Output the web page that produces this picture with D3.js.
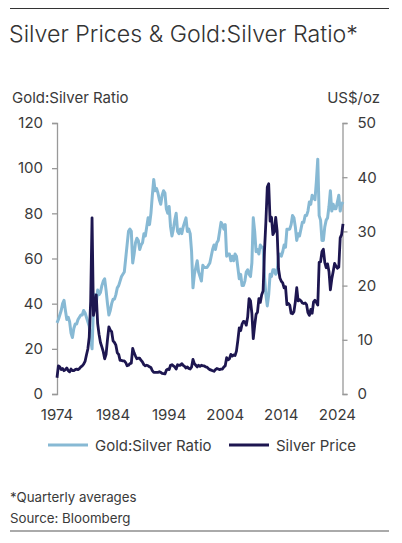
<!DOCTYPE html>
<html>
  <head>
    <meta charset="utf-8">
    <title>Silver Prices & Gold:Silver Ratio</title>
    <script src="https://d3js.org/d3.v7.min.js"></script>
    <style>
      body { margin: 0; background: #fff; }
      text { font-family: Inter, "Noto Sans", sans-serif; fill: #3a3a3a; }
    </style>
  </head>
  <body>
    <div id="chart"></div>
    <script>
      // quarterly averages, first point = Q4 1973, last = Q4 2024
      const startYear = 1973.75;
      const silverPrice = [3.0,
        5.2, 5.0, 4.5, 4.7,   4.3, 4.5, 4.8, 4.3,   4.1, 4.6, 4.3, 4.3,   4.5, 4.6, 4.5, 4.7,
        5.0, 5.2, 5.5, 6.0,   7.2, 8.3, 10.5, 17.0, 32.5, 14.5, 16.0, 18.3, 13.0, 11.0, 9.5, 8.7,
        7.8, 6.5, 7.3, 10.0,  12.4, 11.8, 11.5, 9.8, 9.5, 9.0, 7.6, 7.3,   6.2, 6.2, 6.1, 6.1,
        5.8, 5.2, 5.3, 5.6,   5.7, 8.4, 7.6, 7.0,   6.5, 6.6, 6.6, 6.2,   5.9, 5.4, 5.2, 5.3,
        5.2, 5.0, 4.9, 4.3,   4.0, 4.0, 4.0, 4.0,   4.1, 4.0, 3.8, 3.75,  3.7, 4.4, 4.6, 4.5,
        5.3, 5.4, 5.2, 5.0,   4.6, 5.4, 5.3, 5.3,   5.6, 5.3, 5.1, 4.8,   5.0, 4.7, 4.6, 5.0,
        6.4, 5.6, 5.3, 5.0,   5.3, 5.1, 5.3, 5.2,   5.2, 5.0, 4.95, 4.7,  4.5, 4.4, 4.3, 4.2,
        4.5, 4.7, 4.6, 4.5,   4.6, 4.6, 5.0, 5.2,   6.7, 6.3, 6.5, 7.3,   7.0, 7.2, 7.1, 7.9,
        9.9, 12.2, 11.7, 12.9, 13.4, 13.3, 12.7, 14.2, 17.6, 17.2, 14.9, 10.2, 12.6, 14.7, 15.1, 17.6,
        16.9, 18.3, 19.0, 26.4, 31.8, 38.2, 38.8, 31.9, 32.6, 29.4, 29.9, 32.6, 30.1, 23.1, 21.4, 20.8,
        20.5, 19.6, 19.8, 16.5, 16.7, 16.4, 14.9, 14.8, 15.2, 17.0, 19.6, 17.2, 17.4, 17.2, 16.8, 16.7,
        16.8, 16.5, 15.0, 14.5, 15.6, 14.9, 17.0, 17.3, 16.9, 16.4, 24.3, 24.4, 26.3, 26.7, 24.3, 23.3,
        24.0, 22.6, 19.2, 21.2, 22.6, 24.1, 23.6, 23.2, 23.4, 28.8, 29.4, 31.4];
      const goldSilverRatio = [31.5,
        33, 35, 37, 40,   41.5, 37, 33, 34,   32, 27, 25, 29,   31, 31, 33, 34,
        35, 35, 37, 36,   34, 32, 30, 24,   20, 38, 44, 40,   46, 44, 45, 48,
        50, 51, 46, 40,   35, 37, 40, 42,   42, 44, 47, 48,   50, 52, 53, 54,
        60, 66, 72, 73,   72, 58, 62, 67,   69, 68, 64, 66,   67, 71, 70, 74,
        78, 75, 80, 88,   95, 90, 91, 89,   86, 84, 88, 90,   89, 82, 80, 83,
        74, 70, 73, 77,   80, 72, 71, 73,   71, 74, 76, 78,   72, 73, 71, 63,
        47, 53, 56, 59,   54, 52, 50, 57,   56, 56, 56, 57,   58, 61, 64, 66,
        64, 67, 68, 72,   76, 75, 73, 75,   61, 62, 62, 59,   61, 59, 62, 61,
        56, 51, 53, 48,   48, 50, 54, 55,   53, 52, 58, 78,   72, 63, 64, 62,
        66, 65, 65, 52,   44, 39, 44, 53,   52, 55, 55, 53,   54, 61, 62, 61,
        63, 66, 65, 73,   73, 73, 75, 79,   78, 74, 68, 71,   70, 73, 76, 76,
        79, 79, 81, 85,   84, 88, 87, 86,   94, 104, 79, 77,  68, 68, 74, 77,
        78, 83, 90, 81,   84, 82, 82, 85,   88, 81, 84, 85];
      const yearTicks = [1974, 1984, 1994, 2004, 2014, 2024];
      const ratioTicks = [0, 20, 40, 60, 80, 100, 120];
      const priceTicks = [0, 10, 20, 30, 40, 50];

      const ratioColor = "#87b9d4";
      const silverColor = "#1d1650";

      const svg = d3.select("#chart")
        .append("svg")
        .attr("width", 402)
        .attr("height", 543);

      const quarters = silverPrice.map((_, i) => startYear + (i + 1) * 0.25);

      const x = d3.scaleLinear().domain([1974, 2025]).range([57, 343]);
      const yLeft = d3.scaleLinear().domain([0, 120]).range([394, 123]);
      const yRight = d3.scaleLinear().domain([0, 50]).range([394, 123]);

      // top rule + title
      svg.append("line")
        .attr("x1", 10).attr("x2", 389).attr("y1", 8.5).attr("y2", 8.5)
        .attr("stroke", "#333").attr("stroke-width", 1);
      svg.append("text")
        .attr("x", 9).attr("y", 42)
        .attr("font-size", 23.2).attr("font-weight", 300)
        .style("fill", "#333")
        .text("Silver Prices & Gold:Silver Ratio*");

      // axis titles
      svg.append("text")
        .attr("x", 12).attr("y", 103)
        .attr("font-size", 15)
        .text("Gold:Silver Ratio");
      svg.append("text")
        .attr("x", 380).attr("y", 103)
        .attr("font-size", 15).attr("text-anchor", "end")
        .text("US$/oz");

      // axes
      const leftAxis = svg.append("g")
        .attr("transform", "translate(57,0)")
        .call(d3.axisLeft(yLeft).tickValues(ratioTicks).tickSize(5).tickPadding(9));
      const rightAxis = svg.append("g")
        .attr("transform", "translate(342.5,0)")
        .call(d3.axisRight(yRight).tickValues(priceTicks).tickSize(5).tickPadding(10));
      [leftAxis, rightAxis].forEach(g => {
        g.selectAll("path, line").attr("stroke", "#999").attr("stroke-width", 1.3);
        g.selectAll("text").attr("font-size", 15).style("font-family", "Inter, sans-serif").style("fill", "#3a3a3a");
      });

      // x labels
      svg.selectAll(".xlab")
        .data(yearTicks)
        .join("text")
        .attr("class", "xlab")
        .attr("x", d => x(d))
        .attr("y", 420)
        .attr("text-anchor", "middle")
        .attr("font-size", 15)
        .text(d => d);

      const ratioLine = d3.line()
        .x((d, i) => x(quarters[i]))
        .y(d => yLeft(d));
      const silverLine = d3.line()
        .x((d, i) => x(quarters[i]))
        .y(d => yRight(d));

      svg.append("path")
        .datum(goldSilverRatio)
        .attr("fill", "none")
        .attr("stroke", ratioColor)
        .attr("stroke-width", 3)
        .attr("stroke-linejoin", "round")
        .attr("d", ratioLine);
      svg.append("path")
        .datum(silverPrice)
        .attr("fill", "none")
        .attr("stroke", silverColor)
        .attr("stroke-width", 2.8)
        .attr("stroke-linejoin", "round")
        .attr("d", silverLine);

      // legend
      const legend = [
        { label: "Gold:Silver Ratio", color: ratioColor, x: 48 },
        { label: "Silver Price", color: silverColor, x: 229 }
      ];
      const lg = svg.selectAll(".leg").data(legend).join("g").attr("class", "leg");
      lg.append("line")
        .attr("x1", d => d.x).attr("x2", d => d.x + 40)
        .attr("y1", 445).attr("y2", 445)
        .attr("stroke", d => d.color).attr("stroke-width", 3);
      lg.append("text")
        .attr("x", d => d.x + 47).attr("y", 450.5)
        .attr("font-size", 15)
        .text(d => d.label);

      // footnotes
      svg.append("text")
        .attr("x", 10).attr("y", 502)
        .attr("font-size", 13.3)
        .text("*Quarterly averages");
      svg.append("text")
        .attr("x", 10).attr("y", 523)
        .attr("font-size", 13.3)
        .text("Source: Bloomberg");
      svg.append("line")
        .attr("x1", 10).attr("x2", 389).attr("y1", 531).attr("y2", 531)
        .attr("stroke", "#aaa").attr("stroke-width", 2);
    </script>
  </body>
</html>
